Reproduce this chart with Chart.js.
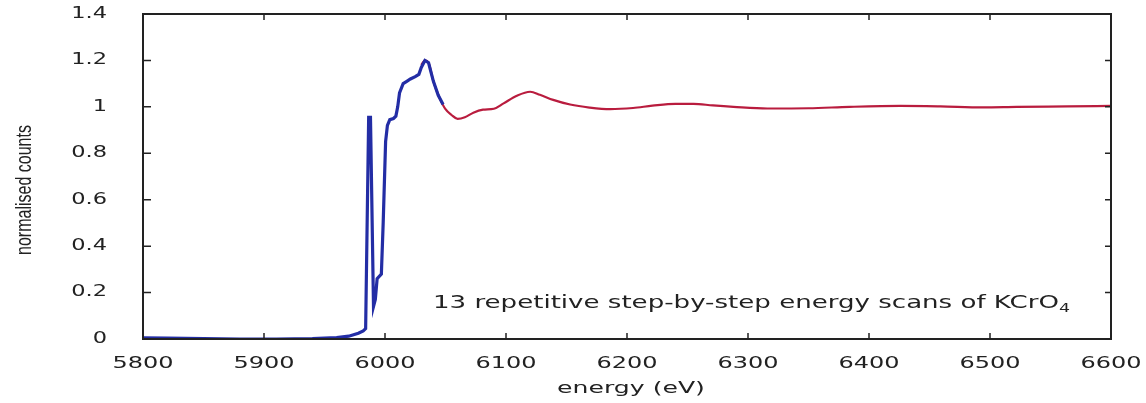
<!DOCTYPE html>
<html>
<head>
<meta charset="utf-8">
<script src="https://cdn.jsdelivr.net/npm/chart.js@4"></script>
<style>
  body { margin: 0; background: #fff; }
  #wrap { width: 1146px; height: 403px; }
</style>
</head>
<body>
<div id="wrap"><canvas id="xasChart"></canvas></div>
<script>
// energy (eV) and normalised counts
const edgeEnergy = [5800, 5820, 5850, 5880, 5910, 5940, 5960, 5970, 5978, 5982, 5984, 5986.5, 5988, 5990.5, 5992, 5993.5, 5997, 5998.5, 6000.5, 6002, 6004, 6007, 6009, 6010.5, 6012, 6015, 6018, 6021, 6025, 6028, 6030, 6033, 6036, 6038, 6040, 6044, 6048];
const edgeCounts = [0.005, 0.004, 0.002, 0.0, 0.0, 0.002, 0.006, 0.012, 0.025, 0.035, 0.045, 0.955, 0.955, 0.14, 0.17, 0.26, 0.28, 0.5, 0.85, 0.92, 0.945, 0.95, 0.96, 1.0, 1.06, 1.1, 1.11, 1.12, 1.13, 1.14, 1.17, 1.2, 1.19, 1.15, 1.11, 1.05, 1.01];

const exafsEnergy = [6030, 6033, 6036, 6040, 6045, 6050, 6055, 6060, 6066, 6073, 6081, 6090, 6098, 6109, 6120, 6128, 6139, 6153, 6169, 6186, 6205, 6221, 6240, 6255, 6271, 6288, 6316, 6350, 6384, 6426, 6459, 6494, 6522, 6564, 6600];
const exafsCounts = [1.18, 1.2, 1.19, 1.11, 1.04, 0.99, 0.965, 0.948, 0.955, 0.975, 0.988, 0.992, 1.015, 1.048, 1.065, 1.052, 1.03, 1.01, 0.997, 0.99, 0.995, 1.005, 1.013, 1.013, 1.006, 1.0, 0.993, 0.994, 1.0, 1.004, 1.002, 0.998, 1.0, 1.002, 1.004];

const xTicks = [5800, 5900, 6000, 6100, 6200, 6300, 6400, 6500, 6600];
const yTicks = [0, 0.2, 0.4, 0.6, 0.8, 1, 1.2, 1.4];

const xTitle = "energy (eV)";
const yTitle = "normalised counts";
const note = "13 repetitive step-by-step energy scans of KCrO";
const noteSub = "4";

const toPoints = (xs, ys) => xs.map((x, i) => ({ x: x, y: ys[i] }));

// text in the picture is stretched sideways, so draw it the same way
function wideText(ctx, text, x, y, sx, align) {
  ctx.save();
  ctx.translate(x, y);
  ctx.scale(sx, 1);
  ctx.textAlign = align;
  ctx.fillText(text, 0, 0);
  ctx.restore();
}

const framePlugin = {
  id: "frame",
  afterDraw(chart) {
    const ctx = chart.ctx;
    const xs = chart.scales.x;
    const ys = chart.scales.y;
    const a = chart.chartArea;
    ctx.save();

    // box
    ctx.strokeStyle = "#222";
    ctx.lineWidth = 2;
    ctx.strokeRect(a.left, a.top, a.right - a.left, a.bottom - a.top);

    // inward ticks on all sides
    ctx.lineWidth = 1.5;
    ctx.beginPath();
    xTicks.forEach(v => {
      const px = xs.getPixelForValue(v);
      ctx.moveTo(px, a.bottom); ctx.lineTo(px, a.bottom - 6);
      ctx.moveTo(px, a.top); ctx.lineTo(px, a.top + 6);
    });
    yTicks.forEach(v => {
      const py = ys.getPixelForValue(v);
      ctx.moveTo(a.left, py); ctx.lineTo(a.left + 8, py);
      ctx.moveTo(a.right, py); ctx.lineTo(a.right - 6, py);
    });
    ctx.stroke();

    // tick labels
    ctx.fillStyle = "#222";
    ctx.font = "15px 'DejaVu Sans'";
    ctx.textBaseline = "middle";
    yTicks.forEach(v => {
      wideText(ctx, String(v), 107, ys.getPixelForValue(v), 1.5, "right");
    });
    xTicks.forEach(v => {
      wideText(ctx, String(v), xs.getPixelForValue(v), 364, 1.6, "center");
    });

    // axis titles
    ctx.font = "16px 'DejaVu Sans'";
    wideText(ctx, xTitle, 631, 389, 1.57, "center");

    ctx.save();
    ctx.translate(25, 190);
    ctx.scale(1.4, 1);
    ctx.rotate(-Math.PI / 2);
    ctx.font = "16px 'Liberation Sans'";
    ctx.textAlign = "center";
    ctx.fillText(yTitle, 0, 0);
    ctx.restore();

    // annotation, fitted to its width in the picture
    ctx.textBaseline = "alphabetic";
    ctx.font = "18px 'DejaVu Sans'";
    const w1 = ctx.measureText(note).width;
    ctx.font = "12px 'DejaVu Sans'";
    const w2 = ctx.measureText(noteSub).width;
    const sx = 637 / (w1 + w2);
    ctx.save();
    ctx.translate(433, 308);
    ctx.scale(sx, 1);
    ctx.textAlign = "left";
    ctx.font = "18px 'DejaVu Sans'";
    ctx.fillText(note, 0, 0);
    ctx.font = "12px 'DejaVu Sans'";
    ctx.fillText(noteSub, w1, 4);
    ctx.restore();

    ctx.restore();
  }
};

new Chart(document.getElementById("xasChart"), {
  type: "line",
  data: {
    datasets: [
      {
        label: "scans (EXAFS)",
        data: toPoints(exafsEnergy, exafsCounts),
        borderColor: "rgb(185, 28, 62)",
        borderWidth: 2.2,
        pointRadius: 0,
        cubicInterpolationMode: "monotone",
        order: 2,
      },
      {
        label: "scans (edge)",
        data: toPoints(edgeEnergy, edgeCounts),
        borderColor: "rgb(35, 45, 165)",
        borderWidth: 3.2,
        pointRadius: 0,
        tension: 0,
        order: 1,
      },
    ],
  },
  options: {
    responsive: true,
    maintainAspectRatio: false,
    animation: false,
    layout: { padding: { left: 143, right: 35, top: 14, bottom: 64 } },
    plugins: {
      legend: { display: false },
      tooltip: { enabled: false },
    },
    scales: {
      x: { type: "linear", min: 5800, max: 6600, display: false },
      y: { min: 0, max: 1.4, display: false },
    },
  },
  plugins: [framePlugin],
});
</script>
</body>
</html>
